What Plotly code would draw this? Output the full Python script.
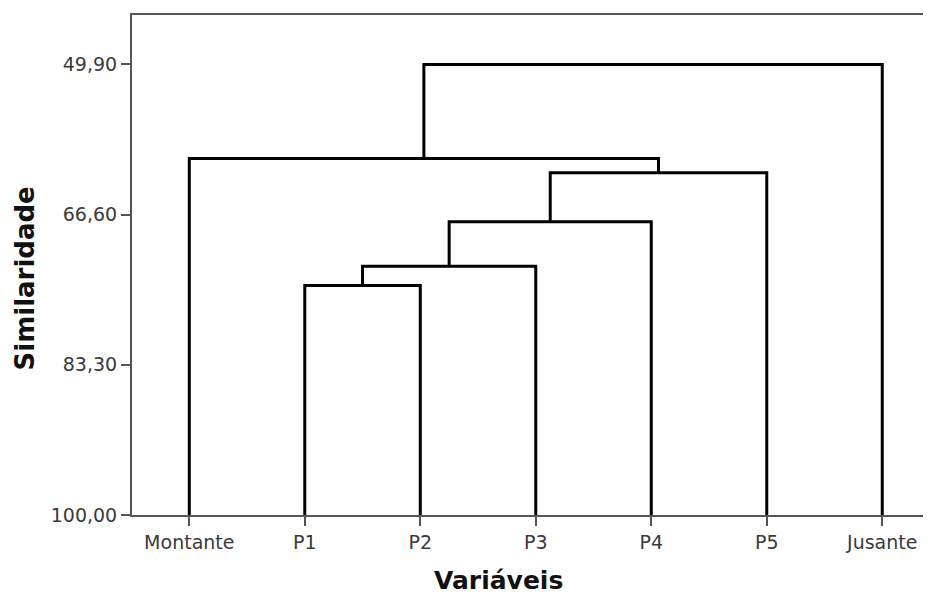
import plotly.graph_objects as go

# ---- data ----
leaves = ["Montante", "P1", "P2", "P3", "P4", "P5", "Jusante"]
merge_left = ["P1", "A", "B", "C", "Montante", "E"]
merge_right = ["P2", "P3", "P4", "P5", "D", "Jusante"]
merge_name = ["A", "B", "C", "D", "E", "F"]
similarity = [74.47, 72.35, 67.40, 61.95, 60.36, 49.90]

y_tick_vals = [49.90, 66.60, 83.30, 100.00]
y_tick_text = ["49,90", "66,60", "83,30", "100,00"]

# ---- build dendrogram segments ----
pos = {name: i for i, name in enumerate(leaves)}
hgt = {name: 100.0 for name in leaves}
xs, ys = [], []
for l, r, n, s in zip(merge_left, merge_right, merge_name, similarity):
    xs += [pos[l], pos[l], pos[r], pos[r], None]
    ys += [hgt[l], s, s, hgt[r], None]
    pos[n] = (pos[l] + pos[r]) / 2
    hgt[n] = s

fig = go.Figure()
fig.add_trace(go.Scatter(x=xs, y=ys, mode="lines",
                         line=dict(color="#000000", width=3),
                         hoverinfo="skip", showlegend=False))

# page body has an 8px margin, so the figure is drawn shifted by 8px;
# the plot area runs past the right edge of the window, as in the reference
W, H = 932, 586
ML, MT, MB = 124, 7, 79
PW, PH = W - ML, H - MT - MB

font_family = "DejaVu Sans"
fig.update_layout(
    width=W, height=H,
    margin=dict(l=ML, r=0, t=MT, b=MB),
    paper_bgcolor="white", plot_bgcolor="white",
    font=dict(family=font_family, color="#333333"),
    showlegend=False,
)
fig.update_xaxes(
    range=[-0.496, 6.5],
    tickmode="array", tickvals=list(range(len(leaves))), ticktext=leaves,
    showgrid=False, zeroline=False,
    showline=True, linecolor="#555555", linewidth=2, mirror=True,
    ticks="outside", ticklen=9, tickwidth=1.5, tickcolor="#555555",
    tickfont=dict(size=19, color="#3a3a3a", family=font_family),
)
fig.update_yaxes(
    range=[100, 44.4],
    tickmode="array", tickvals=y_tick_vals, ticktext=y_tick_text,
    showgrid=False, zeroline=False,
    showline=True, linecolor="#555555", linewidth=2, mirror=False,
    ticks="outside", ticklen=9, tickwidth=1.5, tickcolor="#555555",
    tickfont=dict(size=19, color="#3a3a3a", family=font_family),
)

# positions in window pixels (offset 8) converted to paper coords
def px_x(x):
    return (x - 8 - ML) / PW

def px_y(y):
    return (MT + PH - (y - 8)) / PH

fig.add_annotation(text="<b>Similaridade</b>", xref="paper", yref="paper",
                   x=px_x(24), y=px_y(278.5),
                   xanchor="center", yanchor="middle", textangle=-90,
                   showarrow=False,
                   font=dict(size=26, color="#111111", family=font_family))
fig.add_annotation(text="<b>Variáveis</b>", xref="paper", yref="paper",
                   x=px_x(498), y=px_y(580),
                   xanchor="center", yanchor="middle",
                   showarrow=False,
                   font=dict(size=25, color="#111111", family=font_family))

fig.write_html("out.html")
